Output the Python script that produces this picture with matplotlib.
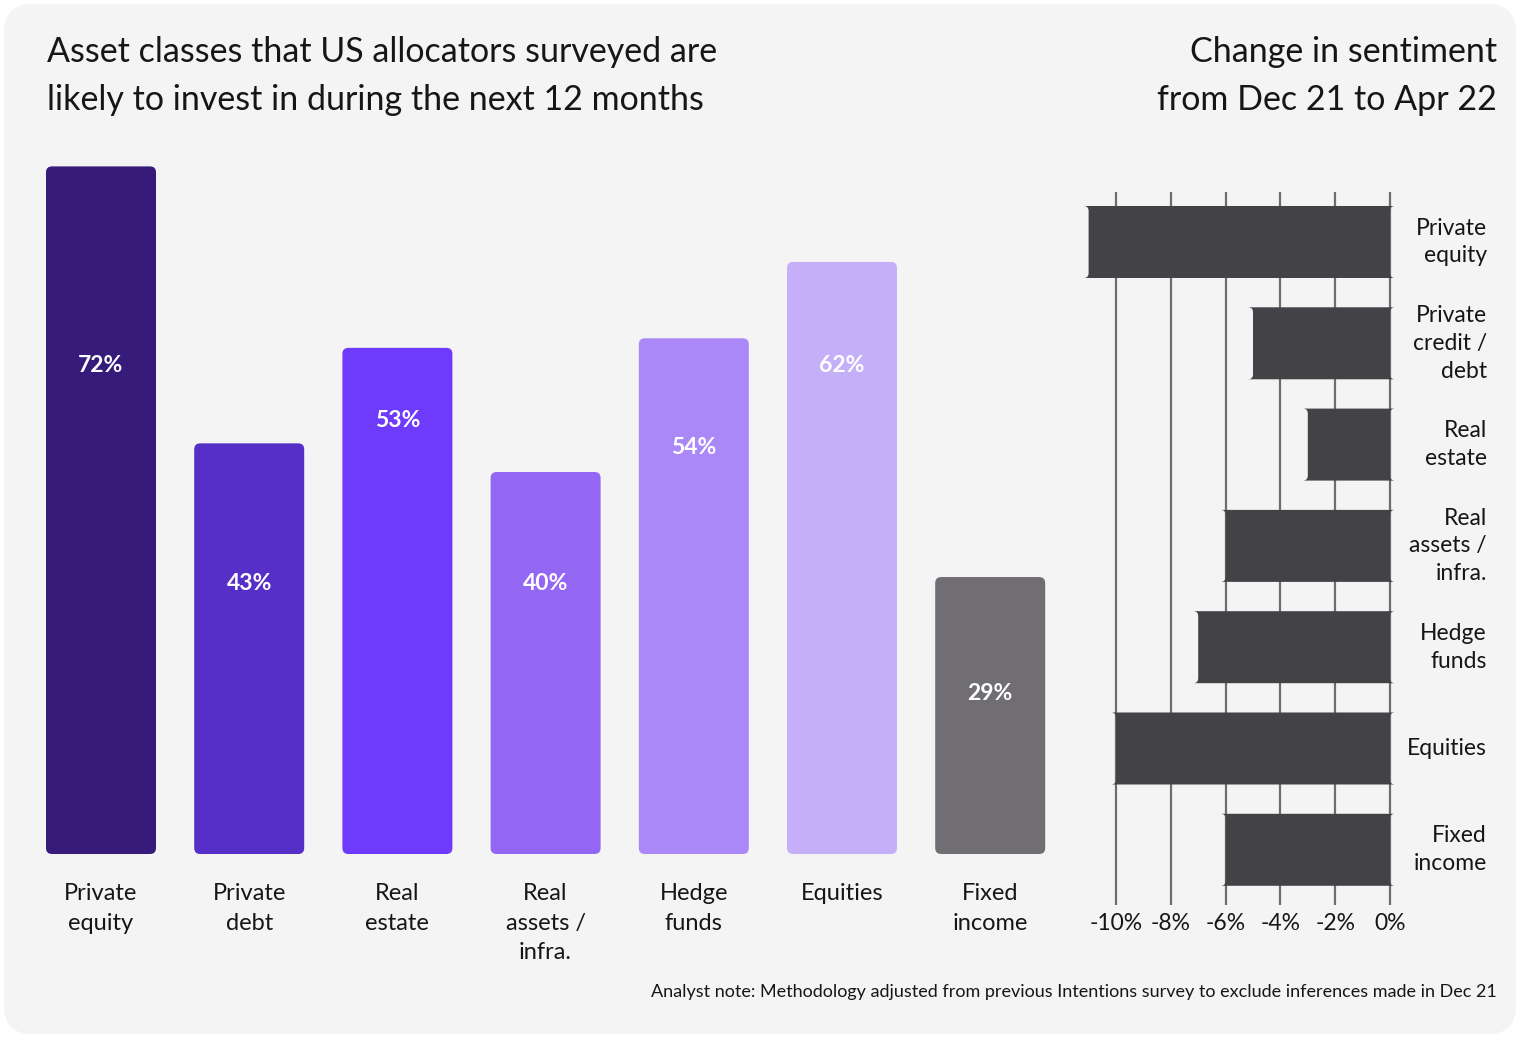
"""Allocator intentions chart: share likely to invest plus sentiment change."""

import matplotlib

matplotlib.use("Agg")
import matplotlib.pyplot as plt
from matplotlib.patches import FancyBboxPatch

plt.rcParams["font.family"] = ["Lato", "DejaVu Sans"]

W, H = 1520, 1038

categories = ["Private\nequity", "Private\ndebt", "Real\nestate", "Real\nassets /\ninfra.",
              "Hedge\nfunds", "Equities", "Fixed\nincome"]
likely_pct = [72, 43, 53, 40, 54, 62, 29]
label_y = [51.2, 28.3, 45.4, 28.3, 42.6, 51.2, 16.8]
bar_colors = ["#361b7b", "#552fc7", "#6e3bfc", "#9466f4", "#ab88f7", "#c6aff9", "#706e73"]

sentiment_labels = ["Private\nequity", "Private\ncredit /\ndebt", "Real\nestate",
                    "Real\nassets /\ninfra.", "Hedge\nfunds", "Equities", "Fixed\nincome"]
sentiment_change = [-11, -5, -3, -6, -7, -10, -6]
sentiment_ticks = [-10, -8, -6, -4, -2, 0]

TEXT = "#161616"


def fx(px):
    return px / W


def fy(py):
    return 1 - py / H


def round_bars(ax, bars, radius_px, x_per_px, y_per_px):
    # swap plain rectangles for rounded ones of the same geometry
    for b in bars:
        x, y = b.get_x(), b.get_y()
        w, h = b.get_width(), b.get_height()
        patch = FancyBboxPatch(
            (x, y), w, h,
            boxstyle=f"round,pad=0,rounding_size={radius_px * x_per_px}",
            mutation_aspect=y_per_px / x_per_px,
            facecolor=b.get_facecolor(), edgecolor="none", zorder=b.get_zorder(),
        )
        b.remove()
        ax.add_patch(patch)


fig = plt.figure(figsize=(W / 100, H / 100), dpi=100, facecolor="white")
fig.patches.append(FancyBboxPatch(
    (0.04, 0.04), 15.12, 10.30, boxstyle="round,pad=0,rounding_size=0.28",
    transform=fig.dpi_scale_trans, facecolor="#f4f4f4", edgecolor="none", zorder=-5,
))

# left panel
step = 148.2
left_px = 101 - 0.5 * step
ax = fig.add_axes([fx(left_px), fy(854), 7 * step / W, 75 * 9.55 / H])
ax.set_facecolor("none")
xs = list(range(len(categories)))
bars = ax.bar(xs, likely_pct, width=110 / step, color=bar_colors, zorder=2)
ax.set_xlim(-0.5, 6.5)
ax.set_ylim(0, 75)
round_bars(ax, bars, 6, 1 / step, 1 / 9.55)
for x, v, ly in zip(xs, likely_pct, label_y):
    ax.text(x, ly, f"{v}%", ha="center", va="center", color="white",
            fontsize=16.5, fontweight="bold", zorder=3)
ax.set_xticks(xs)
ax.set_xticklabels(categories, fontsize=17, color=TEXT, linespacing=1.5, va="top")
ax.tick_params(axis="x", length=0, pad=21)
ax.set_yticks([])
for s in ax.spines.values():
    s.set_visible(False)

# right panel
px_per_pct = 27.4
rx0, rx1 = -11.5, 0.3
ry_top, ry_bot = -0.494, 6.545
row_px = 101.3
ax2 = fig.add_axes([fx(1390 + rx0 * px_per_pct), fy(905), (rx1 - rx0) * px_per_pct / W,
                    (ry_bot - ry_top) * row_px / H])
ax2.set_facecolor("none")
ys = list(range(len(sentiment_labels)))
for t in sentiment_ticks:
    ax2.axvline(t, color="#6d6d6d", linewidth=1.6, zorder=1)
hbars = ax2.barh(ys, sentiment_change, height=72 / row_px, color="#434246", zorder=2)
ax2.set_xlim(rx0, rx1)
ax2.set_ylim(ry_bot, ry_top)
round_bars(ax2, hbars, 5, 1 / px_per_pct, 1 / row_px)
ax2.set_xticks(sentiment_ticks)
ax2.set_xticklabels([f"{t}%" for t in sentiment_ticks], fontsize=16.5, color=TEXT)
ax2.tick_params(axis="x", length=0, pad=6)
ax2.set_yticks([])
for s in ax2.spines.values():
    s.set_visible(False)
for y, lab in zip(ys, sentiment_labels):
    ax2.annotate(lab, xy=(0, y), xytext=((1487 - 1390) * 0.72, 0), textcoords="offset points",
                 ha="right", va="center", multialignment="right", fontsize=16.5,
                 color=TEXT, linespacing=1.4)

fig.text(fx(47), fy(76), "Asset classes that US allocators surveyed are\n"
         "likely to invest in during the next 12 months",
         ha="left", va="center", fontsize=24.5, color=TEXT, linespacing=1.6)
fig.text(fx(1497), fy(76), "Change in sentiment\nfrom Dec 21 to Apr 22",
         ha="right", va="center", multialignment="right", fontsize=24.5, color=TEXT,
         linespacing=1.6)
fig.text(fx(1497), fy(992), "Analyst note: Methodology adjusted from previous Intentions "
         "survey to exclude inferences made in Dec 21",
         ha="right", va="center", fontsize=13, color=TEXT)

fig.savefig("out.png", dpi=100, facecolor="white")
